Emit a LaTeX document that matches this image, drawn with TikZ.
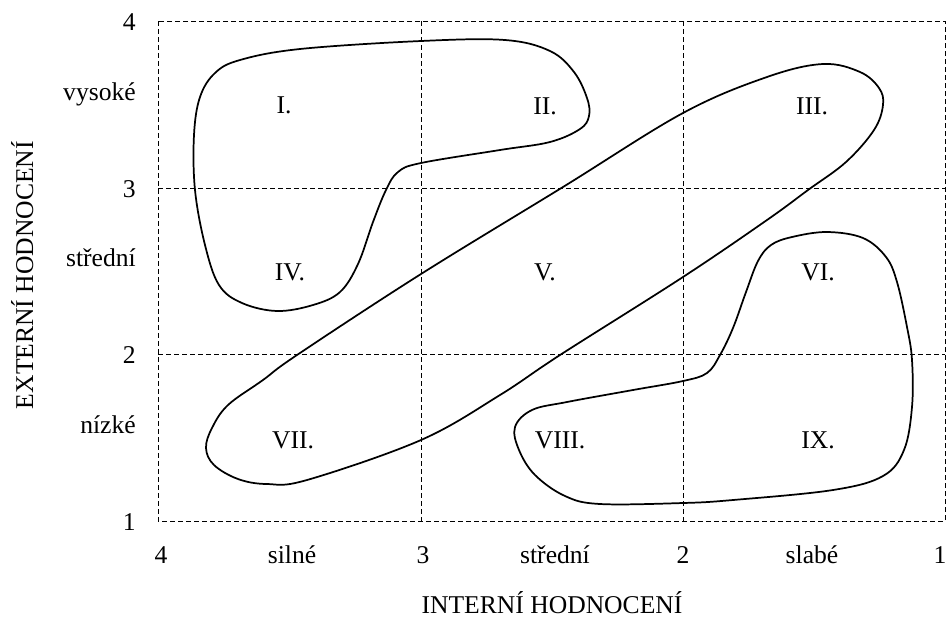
\documentclass[tikz,border=0pt]{standalone}
\usepackage{fontspec}
\setmainfont{Liberation Serif}
\begin{document}
\begin{tikzpicture}[x=0.75pt,y=-0.75pt,
  gridline/.style={line width=0.7pt, dash pattern=on 3.75pt off 2.25pt},
  blob/.style={line width=1.3pt},
  lbl/.style={font=\fontsize{19.2}{22}\selectfont, inner sep=0pt},
]
\useasboundingbox (0,0) rectangle (949,619);

% grid
\draw[gridline] (158,21) rectangle (945,521);
\draw[gridline] (421,21) -- (421,521);
\draw[gridline] (683,21) -- (683,521);
\draw[gridline] (158,188) -- (945,188);
\draw[gridline] (158,354) -- (945,354);

% shape A: I, II, IV
\draw[blob] plot[smooth cycle, tension=0.6] coordinates {
  (240,60) (300,49) (421,41) (505,40) (550,51) (574,72) (587,98) (589,116)
  (580,129) (550,142) (500,150) (421,163) (398,172) (386,190) (373,222)
  (358,264) (340,292) (313,305) (277,311) (242,303) (219,285) (205,245)
  (195,190) (194,135) (200,97) (215,73)};

% shape B: VII, V, III
\draw[blob] plot[smooth cycle, tension=0.6] coordinates {
  (263,380) (297,355) (421,274) (563,187) (683,113) (767,77)
  (823,64) (860,72) (879,88) (883,105) (874,130) (846,162) (808,190)
  (767,220) (683,277) (560,355) (500,395) (421,440) (307,480) (267,484)
  (238,479) (214,465) (206,448) (212,428) (228,405)};

% shape C: VI, VIII, IX
\draw[blob] plot[smooth cycle, tension=0.6] coordinates {
  (792,237) (827,232) (863,238) (886,257) (897,282) (907,327) (912,360)
  (912,407) (904,450) (883,476) (833,490) (733,500) (683,503) (600,504)
  (565,496) (535,475) (519,450) (515,427) (532,410) (567,402) (633,390)
  (683,381) (707,373) (720,355) (733,328) (746,292) (758,261) (771,245)};

% region labels
\node[lbl] (rI)    at (284,105) {I.};
\node[lbl] (rII)   at (545,106) {II.};
\node[lbl] (rIII)  at (812,106) {III.};
\node[lbl] (rIV)   at (290,272) {IV.};
\node[lbl] (rV)    at (545,272) {V.};
\node[lbl] (rVI)   at (818,272) {VI.};
\node[lbl] (rVII)  at (293,440) {VII.};
\node[lbl] (rVIII) at (560,440) {VIII.};
\node[lbl] (rIX)   at (818,440) {IX.};

% y axis ticks and labels
\node[lbl, anchor=base east] (y4) at (136,30) {4};
\node[lbl, anchor=base east] (y3) at (136,197) {3};
\node[lbl, anchor=base east] (y2) at (136,363) {2};
\node[lbl, anchor=base east] (y1) at (136,530) {1};
\node[lbl, anchor=base east] (yh) at (136,100) {vysoké};
\node[lbl, anchor=base east] (ym) at (136,266) {střední};
\node[lbl, anchor=base east] (yl) at (136,433) {nízké};

% x axis ticks and labels
\node[lbl, anchor=base] (x4) at (161,563) {4};
\node[lbl, anchor=base] (xs) at (292,563) {silné};
\node[lbl, anchor=base] (x3) at (423,563) {3};
\node[lbl, anchor=base] (xm) at (555,563) {střední};
\node[lbl, anchor=base] (x2) at (683,563) {2};
\node[lbl, anchor=base] (xw) at (812,563) {slabé};
\node[lbl, anchor=base] (x1) at (940,563) {1};

% axis titles
\node[lbl, anchor=base] (xt) at (552,613) {INTERNÍ HODNOCENÍ};
\node[lbl, anchor=base, rotate=90] (yt) at (33,275) {EXTERNÍ HODNOCENÍ};
\end{tikzpicture}
\end{document}
